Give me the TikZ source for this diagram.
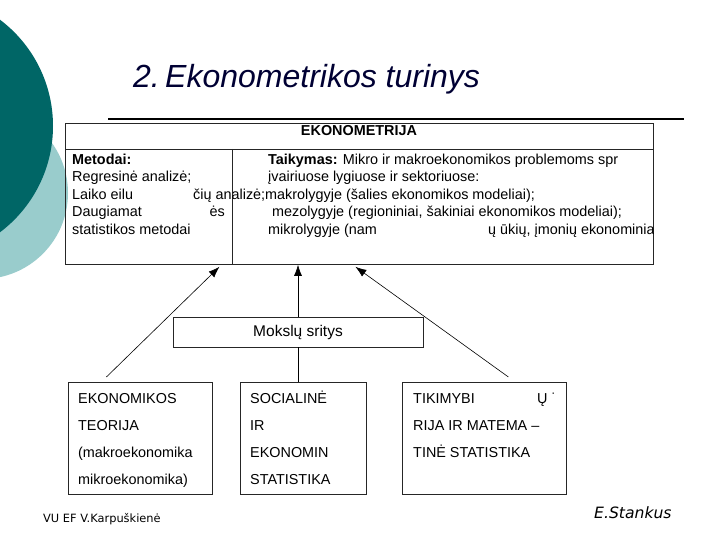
\documentclass[tikz,border=0pt]{standalone}
\usepackage{fontspec}
\setmainfont{Liberation Sans}
\newfontfamily\footfont{DejaVu Sans}
\usepackage{xcolor}
\usetikzlibrary{positioning,calc,arrows.meta}

\definecolor{darkteal}{HTML}{006666}
\definecolor{lightteal}{HTML}{99CCCC}
\definecolor{titlenavy}{HTML}{000033}

\begin{document}
\begin{tikzpicture}[x=1pt, y=-1pt,
    box/.style={draw=black!85, line width=0.8pt, rectangle, inner sep=0pt},
    txt/.style={anchor=base west, inner sep=0pt, font=\fontsize{14.4}{16}\selectfont},
    arr/.style={-{Latex[length=11pt,width=8pt]}, line width=0.6pt}]
    \useasboundingbox (0,0) rectangle (720,540);
    % circles on the left
    \fill[lightteal] (-18,193) circle (86pt);
    \fill[darkteal] (-80,126) circle (133pt);

    \node[anchor=base west, inner sep=0pt, text=titlenavy, font=\fontsize{32}{36}\selectfont\itshape] (title) at (133,88) {2.\,Ekonometrikos turinys};
    \draw[line width=2.2pt] (108,119) -- (684,119);

    % EKONOMETRIJA
    \node[box, anchor=north west, minimum width=588pt, minimum height=141pt] (ekon) at (65,123) {};
    \draw[draw=black!85, line width=0.8pt] (65,149) -- (653,149);
    \draw[draw=black!85, line width=0.8pt] (232,149) -- (232,264);
    \node[txt, anchor=center, font=\fontsize{14.4}{16}\selectfont\bfseries] (ekonhead) at (359,131) {EKONOMETRIJA};

    \node[txt] (met) at (72,164.5) {\textbf{Metodai:}};
    \node[txt] (met1) at (72,182) {Regresinė analizė;};
    \node[txt] (met2) at (72,199.5) {Laiko eilu};
    \node[txt] (met2b) at (193,199.5) {čių analizė;makrolygyje (šalies ekonomikos modeliai);};
    \node[txt] (met3) at (72,217) {Daugiamat};
    \node[txt, anchor=base east] (met3b) at (225,217) {ės};
    \node[txt] (met4) at (72,234.5) {statistikos metodai};

    \node[txt] (taik) at (268,164.5) {\textbf{Taikymas:} Mikro ir makroekonomikos problemoms spr};
    \node[txt] (taik1) at (268,182) {įvairiuose lygiuose ir sektoriuose:};
    \node[txt] (taik3) at (272,217) {mezolygyje (regioniniai, šakiniai ekonomikos modeliai);};
    \node[txt] (taik4) at (268,234.5) {mikrolygyje (nam};
    \begin{scope}
        \clip (65,123) rectangle (653,264);
        \node[txt] (taik4b) at (488,234.5) {ų ūkių, įmonių ekonominia};
    \end{scope}

    % Mokslu sritys
    \node[box, minimum width=250pt, minimum height=30pt, font=\fontsize{15.5}{18}\selectfont] (mokslai) at (298,332) {Mokslų sritys};

    \node[box, anchor=north west, minimum width=144pt, minimum height=112pt] (ekt) at (68,382) {};
    \node[box, anchor=north west, minimum width=126pt, minimum height=112pt] (soc) at (240,382) {};
    \node[box, anchor=north west, minimum width=164pt, minimum height=112pt] (tik) at (402,382) {};

    \foreach \t [count=\i from 0] in {EKONOMIKOS, TEORIJA, {(makroekonomika}, {mikroekonomika)}}
        \node[txt] (ekt\i) at (78,403+27*\i) {\t};
    \foreach \t [count=\i from 0] in {SOCIALINĖ, IR, EKONOMIN, STATISTIKA}
        \node[txt] (soc\i) at (250,403+27*\i) {\t};
    \foreach \t [count=\i from 0] in {TIKIMYBI, RIJA IR MATEMA –, TINĖ STATISTIKA}
        \node[txt] (tik\i) at (413,403+27*\i) {\t};
    \node[txt] (tikb) at (537,403) {Ų ˙};

    % arrows
    \draw[arr] ([xshift=-34pt,yshift=5pt]ekt.north) -- ([xshift=-140pt,yshift=-2pt]ekon.south);
    \draw[arr] (mokslai.north) -- (mokslai.north |- ekon.south);
    \draw[line width=0.6pt] (mokslai.south) -- (mokslai.south |- soc.north);
    \draw[arr] ([xshift=24pt,yshift=5pt]tik.north) -- ([xshift=-4pt,yshift=-2pt]ekon.south);

    \node[anchor=base west, inner sep=0pt, font=\footfont\fontsize{11.4}{13}\selectfont] (autor) at (43,522) {VU EF V.Karpuškienė};
    \node[anchor=base west, inner sep=0pt, font=\footfont\itshape\fontsize{15.6}{18}\selectfont] (lekt) at (594,518) {E.Stankus};
\end{tikzpicture}
\end{document}
